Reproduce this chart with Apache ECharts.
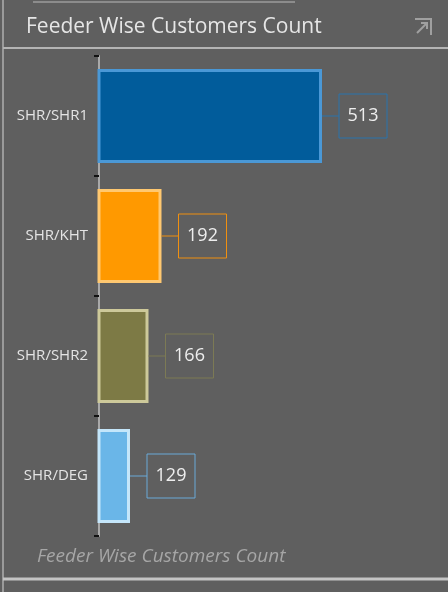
<!DOCTYPE html>
<html>
<head>
<meta charset="utf-8">
<script src="https://cdn.jsdelivr.net/npm/echarts@6/dist/echarts.min.js"></script>
<style>
  html, body { margin: 0; padding: 0; background: #5f5f5f; }
  #main { width: 448px; height: 592px; }
</style>
</head>
<body>
<div id="main"></div>
<script>
// feeder data
const feeders = ["SHR/SHR1", "SHR/KHT", "SHR/SHR2", "SHR/DEG"];
const customers = [513, 192, 166, 129];
const fillColors = ["#015c9b", "#ff9900", "#7d7a45", "#6ab6e8"];
const edgeColors = ["#4a98d6", "#ffc870", "#cdc99a", "#c4e6fa"];
const boxColors = ["#2a74ad", "#f09010", "#7c7a55", "#6aaad8"];

const chart = echarts.init(document.getElementById("main"));

const option = {
  backgroundColor: "#5f5f5f",
  animation: false,
  grid: { left: 99, top: 56, height: 480, right: 32.5 },
  xAxis: {
    type: "value",
    min: 67,
    max: 700,
    show: false
  },
  yAxis: {
    type: "category",
    inverse: true,
    data: feeders,
    axisLine: { show: true, lineStyle: { color: "#a9a9a9", width: 2 } },
    axisTick: { show: true, length: 5, lineStyle: { color: "#111", width: 2 } },
    axisLabel: {
      margin: 11,
      color: "#e4e4e4",
      fontSize: 15,
      fontFamily: "Open Sans",
      padding: [4, 0, 0, 0]
    }
  },
  series: [
    {
      type: "bar",
      barWidth: 94,
      data: customers.map((v, i) => ({
        value: v,
        itemStyle: {
          color: fillColors[i],
          borderColor: edgeColors[i],
          borderWidth: 3
        },
        label: {
          rich: {
            l: { width: 17, height: 1, backgroundColor: boxColors[i], verticalAlign: "middle" },
            b: {
              borderColor: boxColors[i],
              borderWidth: 1,
              padding: [13, 9],
              width: 30,
              lineHeight: 20,
              align: "center",
              verticalAlign: "middle",
              fontSize: 18,
              color: "#eeeeee",
              fontFamily: "Open Sans"
            }
          }
        }
      })),
      label: {
        show: true,
        position: "right",
        distance: 0,
        formatter: p => "{l|}{b|" + p.value + "}"
      }
    }
  ],
  graphic: [
    { type: "line", shape: { x1: 3, y1: 0, x2: 3, y2: 592 }, style: { stroke: "#9a9a9a", lineWidth: 2 } },
    { type: "line", shape: { x1: 33, y1: 2, x2: 295, y2: 2 }, style: { stroke: "#8c8c8c", lineWidth: 2 } },
    { type: "line", shape: { x1: 3, y1: 48, x2: 448, y2: 48 }, style: { stroke: "#b4b4b4", lineWidth: 2 } },
    { type: "line", shape: { x1: 3, y1: 579, x2: 448, y2: 579 }, style: { stroke: "#c4c4c4", lineWidth: 3 } },
    {
      type: "text",
      left: 26,
      top: 17,
      style: { text: "Feeder Wise Customers Count", fill: "#e6e6e6", fontSize: 21, fontFamily: "Open Sans" }
    },
    {
      type: "text",
      left: 37,
      top: 547,
      style: { text: "Feeder Wise Customers Count", fill: "#a6a6a6", fontSize: 19, fontStyle: "italic", fontFamily: "Open Sans" }
    },
    { type: "polyline", shape: { points: [[415, 19], [431, 19], [431, 35]] }, style: { stroke: "#a0a0a0", lineWidth: 2, fill: null } },
    { type: "line", shape: { x1: 417, y1: 33, x2: 427, y2: 23 }, style: { stroke: "#a0a0a0", lineWidth: 2 } },
    { type: "polyline", shape: { points: [[421, 23], [427, 23], [427, 29]] }, style: { stroke: "#a0a0a0", lineWidth: 2, fill: null } }
  ]
};

chart.setOption(option);
</script>
</body>
</html>
